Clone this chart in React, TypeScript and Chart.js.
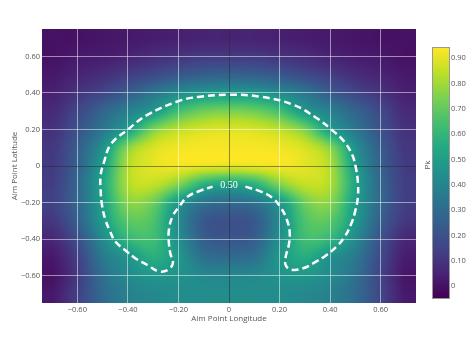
import React, { useEffect, useRef } from "react";
import { Chart, registerables } from "chart.js";

Chart.register(...registerables);

// Grid sample positions (longitude columns, latitude rows top->bottom)
const lonCenters = [-0.7, -0.6, -0.5, -0.4, -0.3, -0.2, -0.1, 0, 0.1, 0.2, 0.3, 0.4, 0.5, 0.6, 0.7];
const latCenters = [0.7, 0.6, 0.5, 0.4, 0.3, 0.2, 0.1, 0, -0.1, -0.2, -0.3, -0.4, -0.5, -0.6, -0.7];

// Pk values, one row per latitude
const pkRowP07 = [0.0, 0.0, 0.01, 0.02, 0.03, 0.04, 0.05, 0.05, 0.05, 0.04, 0.03, 0.02, 0.01, 0.0, 0.0];
const pkRowP06 = [0.0, 0.02, 0.03, 0.05, 0.08, 0.1, 0.12, 0.12, 0.12, 0.1, 0.08, 0.05, 0.03, 0.02, 0.0];
const pkRowP05 = [0.02, 0.05, 0.08, 0.13, 0.17, 0.22, 0.25, 0.26, 0.25, 0.22, 0.17, 0.13, 0.08, 0.05, 0.02];
const pkRowP04 = [0.04, 0.1, 0.16, 0.24, 0.34, 0.42, 0.47, 0.48, 0.47, 0.42, 0.34, 0.24, 0.16, 0.1, 0.04];
const pkRowP03 = [0.07, 0.16, 0.27, 0.38, 0.48, 0.64, 0.72, 0.74, 0.72, 0.64, 0.48, 0.38, 0.27, 0.17, 0.07];
const pkRowP02 = [0.09, 0.2, 0.34, 0.5, 0.74, 0.84, 0.88, 0.89, 0.88, 0.84, 0.74, 0.5, 0.34, 0.2, 0.09];
const pkRowP01 = [0.11, 0.24, 0.45, 0.76, 0.88, 0.92, 0.93, 0.93, 0.93, 0.92, 0.88, 0.76, 0.45, 0.24, 0.11];
const pkRow000 = [0.12, 0.26, 0.5, 0.82, 0.9, 0.92, 0.91, 0.9, 0.91, 0.92, 0.9, 0.82, 0.5, 0.26, 0.12];
const pkRowM01 = [0.13, 0.28, 0.53, 0.82, 0.85, 0.75, 0.58, 0.53, 0.58, 0.75, 0.85, 0.82, 0.53, 0.28, 0.13];
const pkRowM02 = [0.14, 0.28, 0.51, 0.76, 0.72, 0.48, 0.33, 0.3, 0.33, 0.48, 0.72, 0.76, 0.5, 0.28, 0.13];
const pkRowM03 = [0.11, 0.25, 0.49, 0.68, 0.66, 0.42, 0.23, 0.2, 0.23, 0.42, 0.66, 0.68, 0.48, 0.25, 0.11];
const pkRowM04 = [0.06, 0.19, 0.42, 0.6, 0.63, 0.44, 0.25, 0.22, 0.25, 0.44, 0.63, 0.6, 0.42, 0.2, 0.06];
const pkRowM05 = [0.02, 0.14, 0.35, 0.46, 0.57, 0.47, 0.32, 0.3, 0.32, 0.47, 0.56, 0.45, 0.35, 0.17, 0.03];
const pkRowM06 = [0.0, 0.12, 0.31, 0.42, 0.47, 0.45, 0.41, 0.4, 0.41, 0.45, 0.47, 0.42, 0.32, 0.15, 0.01];
const pkRowM07 = [0.02, 0.14, 0.29, 0.38, 0.41, 0.43, 0.43, 0.43, 0.43, 0.43, 0.41, 0.38, 0.3, 0.16, 0.02];
const pkGrid = [
  pkRowP07, pkRowP06, pkRowP05, pkRowP04, pkRowP03, pkRowP02, pkRowP01, pkRow000,
  pkRowM01, pkRowM02, pkRowM03, pkRowM04, pkRowM05, pkRowM06, pkRowM07,
];

const pkMin = -0.047;
const pkMax = 0.941;

// 0.50 contour (opens at the label)
const contourLon = [
  0.065, 0.122, 0.172, 0.205, 0.228, 0.24, 0.237, 0.224, 0.225, 0.248, 0.293, 0.339, 0.385, 0.425,
  0.458, 0.484, 0.499, 0.51, 0.51, 0.502, 0.488, 0.455, 0.405, 0.346, 0.253, 0.122, 0.0, -0.122,
  -0.2, -0.323, -0.4, -0.468, -0.495, -0.508, -0.508, -0.503, -0.49, -0.47, -0.449, -0.409, -0.37,
  -0.323, -0.277, -0.24, -0.222, -0.232, -0.238, -0.238, -0.224, -0.198, -0.165, -0.113, -0.065,
];
const contourLat = [
  -0.113, -0.138, -0.175, -0.228, -0.29, -0.36, -0.43, -0.5, -0.545, -0.568, -0.56, -0.528, -0.488,
  -0.442, -0.387, -0.315, -0.25, -0.17, -0.09, -0.01, 0.06, 0.135, 0.2, 0.263, 0.336, 0.38, 0.39,
  0.378, 0.355, 0.28, 0.2, 0.118, 0.02, -0.05, -0.13, -0.21, -0.29, -0.36, -0.415, -0.463, -0.506,
  -0.542, -0.577, -0.567, -0.53, -0.48, -0.42, -0.351, -0.278, -0.224, -0.169, -0.135, -0.113,
];
const contourLabel = "0.50";
const contourLabelLon = 0;
const contourLabelLat = -0.105;

const xTicks = [-0.6, -0.4, -0.2, 0, 0.2, 0.4, 0.6];
const yTicks = [-0.6, -0.4, -0.2, 0, 0.2, 0.4, 0.6];
const cbTicks = [0, 0.1, 0.2, 0.3, 0.4, 0.5, 0.6, 0.7, 0.8, 0.9];

const xTitle = "Aim Point Longitude";
const yTitle = "Aim Point Latitude";
const cbTitle = "Pk";

const viridisStops = [
  "#440154", "#482475", "#414487", "#355f8d", "#2a788e", "#21918c",
  "#22a884", "#44bf70", "#7ad151", "#bddf26", "#fde725",
];

const FONT = "'Open Sans', 'DejaVu Sans', sans-serif";
const TEXT = "#555";

function hexRgb(h: string) {
  return [parseInt(h.slice(1, 3), 16), parseInt(h.slice(3, 5), 16), parseInt(h.slice(5, 7), 16)];
}
const stopRgb = viridisStops.map(hexRgb);

function colorFor(v: number) {
  let t = (v - pkMin) / (pkMax - pkMin);
  t = Math.max(0, Math.min(1, t));
  const f = t * (stopRgb.length - 1);
  const i = Math.min(stopRgb.length - 2, Math.floor(f));
  const u = f - i;
  const a = stopRgb[i];
  const b = stopRgb[i + 1];
  return [a[0] + (b[0] - a[0]) * u, a[1] + (b[1] - a[1]) * u, a[2] + (b[2] - a[2]) * u];
}

function cubic(p0: number, p1: number, p2: number, p3: number, t: number) {
  return p1 + 0.5 * t * (p2 - p0 + t * (2 * p0 - 5 * p1 + 4 * p2 - p3 + t * (3 * (p1 - p2) + p3 - p0)));
}

function sampleGrid(lon: number, lat: number) {
  const nx = lonCenters.length;
  const ny = latCenters.length;
  const dx = lonCenters[1] - lonCenters[0];
  const dy = latCenters[0] - latCenters[1];
  let fx = (lon - lonCenters[0]) / dx;
  let fy = (latCenters[0] - lat) / dy;
  fx = Math.max(0, Math.min(nx - 1, fx));
  fy = Math.max(0, Math.min(ny - 1, fy));
  const ix = Math.min(nx - 2, Math.floor(fx));
  const iy = Math.min(ny - 2, Math.floor(fy));
  const tx = fx - ix;
  const ty = fy - iy;
  const cx = (i: number) => Math.max(0, Math.min(nx - 1, i));
  const cy = (i: number) => Math.max(0, Math.min(ny - 1, i));
  const rows: number[] = [];
  for (let j = -1; j <= 2; j++) {
    const r = pkGrid[cy(iy + j)];
    rows.push(cubic(r[cx(ix - 1)], r[cx(ix)], r[cx(ix + 1)], r[cx(ix + 2)], tx));
  }
  return cubic(rows[0], rows[1], rows[2], rows[3], ty);
}

function fmt(v: number) {
  if (Math.abs(v) < 1e-9) return "0";
  return (v < 0 ? "\u2212" : "") + Math.abs(v).toFixed(2);
}

const heatmapPlugin = {
  id: "heatmap",
  beforeDraw(chart: any) {
    const { ctx, chartArea } = chart;
    const xs = chart.scales.x;
    const ys = chart.scales.y;
    const w = Math.round(chartArea.right - chartArea.left);
    const h = Math.round(chartArea.bottom - chartArea.top);
    const off = document.createElement("canvas");
    off.width = w;
    off.height = h;
    const octx = off.getContext("2d")!;
    const img = octx.createImageData(w, h);
    for (let py = 0; py < h; py++) {
      const lat = ys.getValueForPixel(chartArea.top + py + 0.5);
      for (let px = 0; px < w; px++) {
        const lon = xs.getValueForPixel(chartArea.left + px + 0.5);
        const c = colorFor(sampleGrid(lon, lat));
        const k = (py * w + px) * 4;
        img.data[k] = c[0];
        img.data[k + 1] = c[1];
        img.data[k + 2] = c[2];
        img.data[k + 3] = 255;
      }
    }
    octx.putImageData(img, 0, 0);
    ctx.save();
    ctx.drawImage(off, chartArea.left, chartArea.top);
    ctx.restore();
  },
  afterDraw(chart: any) {
    const { ctx, chartArea } = chart;
    const xs = chart.scales.x;
    const ys = chart.scales.y;
    const cb = chart.scales.cb;
    ctx.save();
    // contour label
    ctx.fillStyle = "#ffffff";
    ctx.font = "10px 'Liberation Serif', 'DejaVu Serif', serif";
    ctx.textAlign = "center";
    ctx.textBaseline = "middle";
    ctx.fillText(contourLabel, xs.getPixelForValue(contourLabelLon), ys.getPixelForValue(contourLabelLat));

    // colorbar
    const x0 = 433;
    const x1 = 449;
    const yTop = Math.round(cb.getPixelForValue(pkMax));
    const yBot = Math.round(cb.getPixelForValue(pkMin));
    for (let py = yTop; py < yBot; py++) {
      const v = cb.getValueForPixel(py + 0.5);
      const c = colorFor(v);
      ctx.fillStyle = `rgb(${Math.round(c[0])},${Math.round(c[1])},${Math.round(c[2])})`;
      ctx.fillRect(x0, py, x1 - x0, 1);
    }
    ctx.strokeStyle = "rgba(68,68,68,0.55)";
    ctx.lineWidth = 1;
    ctx.strokeRect(x0 - 0.5, yTop - 0.5, x1 - x0 + 1, yBot - yTop + 1);

    // titles
    ctx.fillStyle = TEXT;
    ctx.font = `8px ${FONT}`;
    ctx.textAlign = "center";
    ctx.textBaseline = "middle";
    ctx.fillText(xTitle, (chartArea.left + chartArea.right) / 2, 319);
    ctx.save();
    ctx.translate(15, (chartArea.top + chartArea.bottom) / 2);
    ctx.rotate(-Math.PI / 2);
    ctx.fillText(yTitle, 0, 0);
    ctx.restore();
    ctx.save();
    ctx.translate(428, 165);
    ctx.rotate(-Math.PI / 2);
    ctx.fillText(cbTitle, 0, 0);
    ctx.restore();
    ctx.restore();
  },
};

function setTicks(values: number[]) {
  return (scale: any) => {
    scale.ticks = values.map((v) => ({ value: v }));
  };
}

function fixSize(prop: "width" | "height", size: number) {
  return (s: any) => {
    s[prop] = size;
    s.paddingTop = 0;
    s.paddingBottom = 0;
    s.paddingLeft = 0;
    s.paddingRight = 0;
  };
}

export default function App() {
  const ref = useRef<HTMLCanvasElement | null>(null);
  useEffect(() => {
    if (!ref.current) return;
    const gridColor = (c: any) =>
      c.tick && Math.abs(c.tick.value) < 1e-9 ? "rgba(40,40,40,0.5)" : "rgba(255,255,255,0.5)";
    const chart = new Chart(ref.current, {
      type: "scatter",
      data: {
        datasets: [
          {
            data: contourLon.map((x, i) => ({ x, y: contourLat[i] })),
            showLine: true,
            borderColor: "#ffffff",
            borderWidth: 2.5,
            borderDash: [7, 4],
            borderCapStyle: "butt",
            pointRadius: 0,
            pointHoverRadius: 0,
            tension: 0.4,
            fill: false,
          } as any,
        ],
      },
      options: {
        responsive: false,
        animation: false,
        events: [],
        layout: { padding: { top: 29, left: 0, right: 0, bottom: 0 } },
        plugins: { legend: { display: false }, tooltip: { enabled: false } },
        scales: {
          x: {
            type: "linear",
            position: "bottom",
            min: -0.74,
            max: 0.74,
            afterBuildTicks: setTicks(xTicks),
            afterFit: fixSize("height", 37),
            grid: { color: gridColor, lineWidth: 1, drawTicks: false },
            border: { display: false },
            ticks: {
              padding: 2,
              color: TEXT,
              font: { family: FONT, size: 7.5 },
              maxRotation: 0,
              autoSkip: false,
              callback: (v: any) => fmt(Number(v)),
            },
          },
          y: {
            type: "linear",
            position: "left",
            min: -0.75,
            max: 0.75,
            afterBuildTicks: setTicks(yTicks),
            afterFit: fixSize("width", 42),
            grid: { color: gridColor, lineWidth: 1, drawTicks: false },
            border: { display: false },
            ticks: {
              padding: 2,
              color: TEXT,
              font: { family: FONT, size: 7.5 },
              autoSkip: false,
              callback: (v: any) => fmt(Number(v)),
            },
          },
          cb: {
            type: "linear",
            position: "right",
            min: -0.0672,
            max: 1.0158,
            afterBuildTicks: setTicks(cbTicks),
            afterFit: fixSize("width", 59),
            grid: { display: false, drawTicks: false },
            border: { display: false },
            ticks: {
              padding: 35,
              color: TEXT,
              font: { family: FONT, size: 7.5 },
              autoSkip: false,
              callback: (v: any) => fmt(Number(v)),
            },
          },
        },
      } as any,
      plugins: [heatmapPlugin],
    });
    return () => chart.destroy();
  }, []);
  return (
    <div style={{ position: "fixed", left: 0, top: 0, width: 475, height: 340, background: "#fff" }}>
      <canvas ref={ref} width={475} height={340} style={{ display: "block", width: 475, height: 340 }} />
    </div>
  );
}
